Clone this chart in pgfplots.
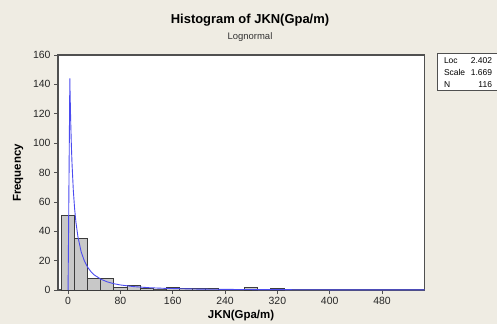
\documentclass[border=0pt]{standalone}
\usepackage{pgfplots}
\pgfplotsset{compat=1.18}
\usepackage{fontspec}
\setmainfont{Liberation Sans}
\definecolor{bgc}{RGB}{239,236,227}
\definecolor{barfill}{RGB}{200,200,200}
\definecolor{baredge}{RGB}{60,60,60}
\definecolor{curve}{RGB}{75,75,240}
\definecolor{frame}{RGB}{80,80,80}
\begin{document}
\begin{tikzpicture}[x=1bp,y=1bp]
\useasboundingbox (0,0) rectangle (497,324);
\fill[bgc] (0,0) rectangle (497,324);
\begin{axis}[
  at={(58bp,34bp)}, anchor=south west,
  scale only axis, width=366.5bp, height=235bp,
  xmin=-15.4, xmax=545, ymin=0, ymax=160,
  axis background/.style={fill=white},
  axis line style={frame, line width=1.3pt},
  xtick={0,80,...,480}, ytick={0,20,...,160},
  tick align=outside, tick style={frame, line width=0.6pt},
  major tick length=4bp,
  xtick pos=bottom, ytick pos=left,
  tick label style={font=\fontsize{10.5}{12}\selectfont, text=black!85},
  /pgf/number format/assume math mode=true,
  clip=true,
]
\addplot[ybar interval, fill=barfill, draw=baredge, line width=0.8pt] coordinates {
  (-10,51) (10,35) (30,8) (50,8) (70,2) (90,3) (110,1) (130,0) (150,2) (170,1)
  (190,1) (210,1) (230,0) (250,0) (270,2) (290,0) (310,1) (330,1)
};
\addplot[curve, line width=0.9pt] coordinates {
  (0,0) (2.7,144) (3,136) (4,115.2) (5,99.1) (6,86.4) (8,68.0) (10,55.3) (12,46.2)
  (15,36.4) (20,26.0) (25,19.7) (30,15.45) (35,12.48) (40,10.3) (50,7.36) (60,5.53)
  (70,4.30) (80,3.43) (100,2.32) (125,1.54) (150,1.09) (200,0.615) (250,0.387)
  (300,0.261) (400,0.137) (500,0.082) (545,0.065)
};
\end{axis}
\node[font=\bfseries\fontsize{13}{15}\selectfont] at (250,304) {Histogram of JKN(Gpa/m)};
\node[font=\fontsize{9.5}{11}\selectfont, text=black!80] at (250,287) {Lognormal};
\node[font=\bfseries\fontsize{11.5}{13}\selectfont] at (241,8) {JKN(Gpa/m)};
\node[font=\bfseries\fontsize{11.5}{13}\selectfont, rotate=90] at (18,151) {Frequency};
\draw[frame, line width=0.8pt, fill=white] (437.5,233.5) rectangle (502,270.5);
\begin{scope}[font=\fontsize{8.5}{10}\selectfont]
\node[anchor=base west] at (440.5,260.5) {Loc};
\node[anchor=base east] at (495.5,260.5) {2.402};
\node[anchor=base west] at (440.5,248.5) {Scale};
\node[anchor=base east] at (495.5,248.5) {1.669};
\node[anchor=base west] at (440.5,237) {N};
\node[anchor=base east] at (495.5,237) {116};
\end{scope}
\end{tikzpicture}
\end{document}
